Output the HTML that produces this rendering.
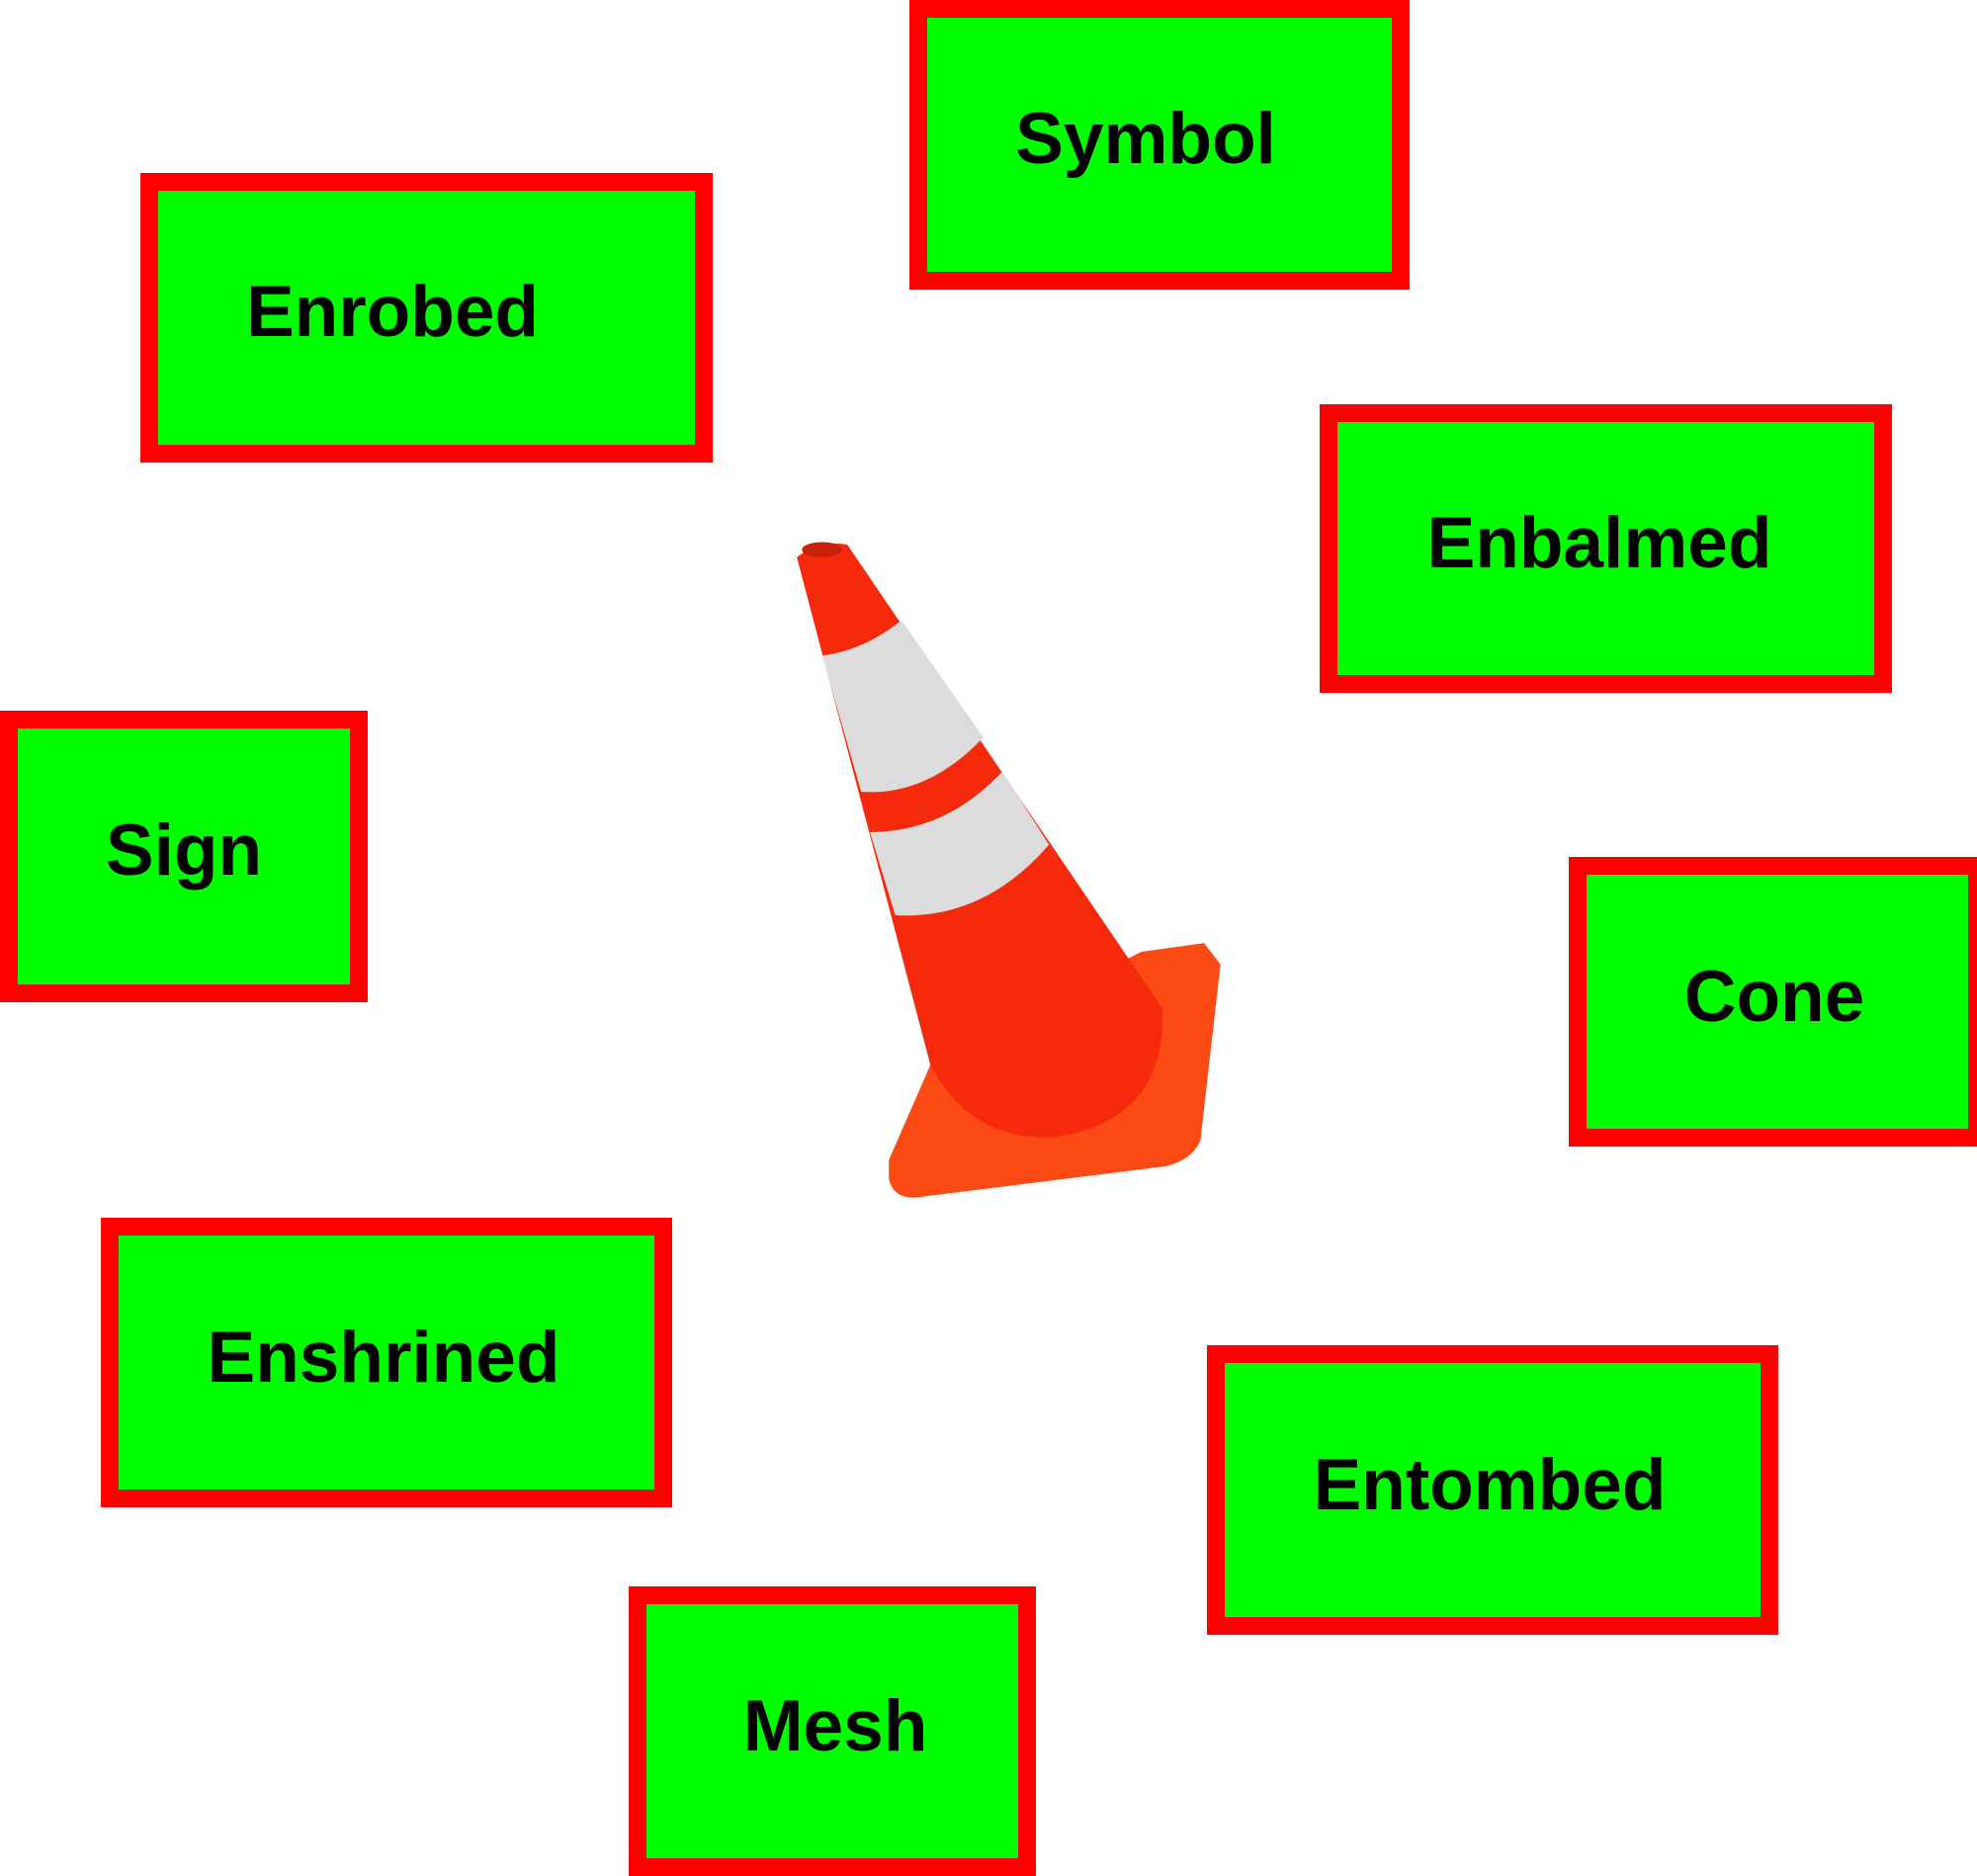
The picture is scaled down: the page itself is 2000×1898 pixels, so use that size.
<!DOCTYPE html>
<html><head><meta charset="utf-8"><style>
html,body{margin:0;padding:0;background:#fff;}
svg{display:block}
text{font-family:"Liberation Sans",sans-serif;font-weight:bold;font-size:73px;fill:#000}
</style></head><body>
<svg width="2000" height="1898" viewBox="0 0 2000 1898">
<g transform="scale(1.2755)">
  <path d="M740,840 L905,755 L955,748 L968,765 L952,905 Q945,920 925,925 L725,950 Q708,950 705,935 L705,920 Z" fill="#fb4a14"/>
  <path d="M632,442 Q650,428 672,432 L922,800 Q925,890 835,902 Q770,905 738,845 Z" fill="#f52a0c"/>
  <ellipse cx="652" cy="436" rx="16" ry="6" fill="#c8200a"/>
  <path d="M652,520 Q685,516 715,492 L780,585 Q735,632 683,628 Z" fill="#dcdcdc"/>
  <path d="M690,660 Q750,660 795,612 L832,670 Q780,730 710,726 Z" fill="#dcdcdc"/>
</g>
<g><rect x="929" y="9" width="488" height="275" fill="#00ff00" stroke="#ff0000" stroke-width="18"/><text x="1159" y="165" text-anchor="middle">Symbol</text></g>
<g><rect x="151" y="184" width="561" height="275" fill="#00ff00" stroke="#ff0000" stroke-width="18"/><text x="397" y="340" text-anchor="middle">Enrobed</text></g>
<g><rect x="1344" y="418" width="561" height="274" fill="#00ff00" stroke="#ff0000" stroke-width="18"/><text x="1618" y="574" text-anchor="middle">Enbalmed</text></g>
<g><rect x="9" y="728" width="354" height="277" fill="#00ff00" stroke="#ff0000" stroke-width="18"/><text x="186" y="885" text-anchor="middle">Sign</text></g>
<g><rect x="1596" y="876" width="404" height="275" fill="#00ff00" stroke="#ff0000" stroke-width="18"/><text x="1795" y="1033" text-anchor="middle">Cone</text></g>
<g><rect x="111" y="1241" width="560" height="275" fill="#00ff00" stroke="#ff0000" stroke-width="18"/><text x="388" y="1398" text-anchor="middle">Enshrined</text></g>
<g><rect x="1230" y="1370" width="560" height="275" fill="#00ff00" stroke="#ff0000" stroke-width="18"/><text x="1507" y="1527" text-anchor="middle">Entombed</text></g>
<g><rect x="645" y="1614" width="394" height="275" fill="#00ff00" stroke="#ff0000" stroke-width="18"/><text x="845" y="1771" text-anchor="middle">Mesh</text></g>
</svg>
</body></html>
